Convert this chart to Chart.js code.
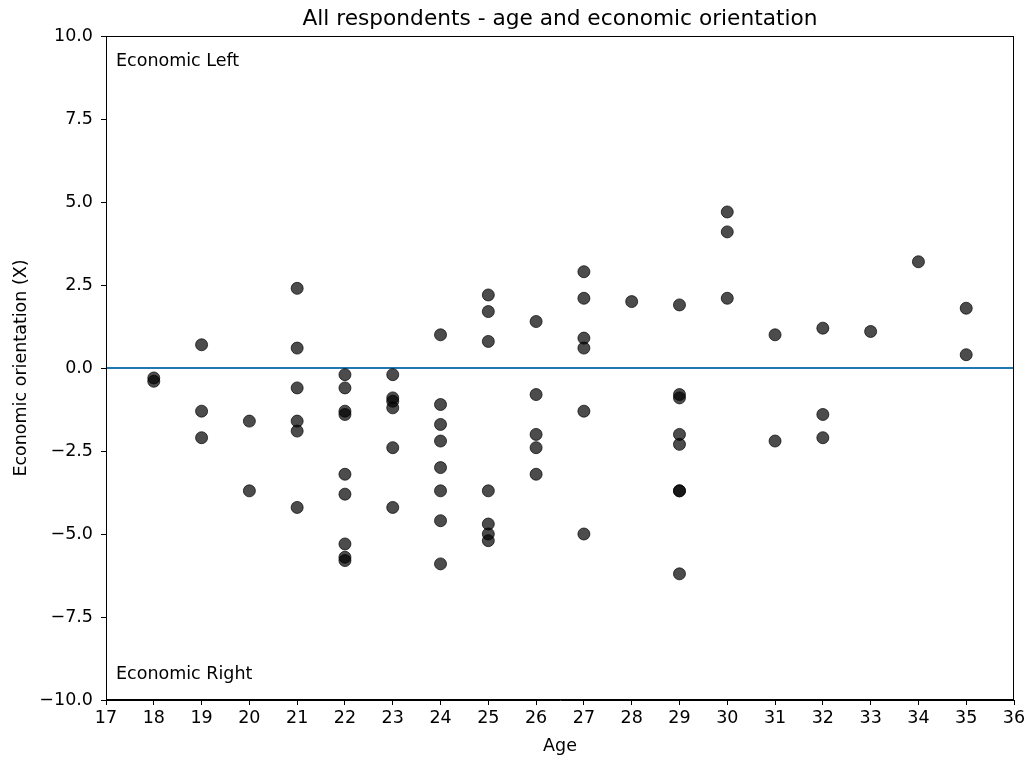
<!DOCTYPE html>
<html>
<head>
<meta charset="utf-8">
<script src="https://cdn.jsdelivr.net/npm/chart.js@4"></script>
<style>
  body { margin: 0; background: #fff; }
  canvas { display: block; }
</style>
</head>
<body>
<canvas id="myChart" width="1026" height="760"></canvas>
<script>
// one entry per respondent
const ages = [
  18, 18,
  19, 19, 19,
  20, 20,
  21, 21, 21, 21, 21, 21,
  22, 22, 22, 22, 22, 22, 22, 22, 22,
  23, 23, 23, 23, 23, 23,
  24, 24, 24, 24, 24, 24, 24, 24,
  25, 25, 25, 25, 25, 25, 25,
  26, 26, 26, 26, 26,
  27, 27, 27, 27, 27, 27,
  28,
  29, 29, 29, 29, 29, 29, 29, 29,
  30, 30, 30,
  31, 31,
  32, 32, 32,
  33,
  34,
  35, 35
];
const orientation = [
  -0.3, -0.4,
  0.7, -1.3, -2.1,
  -1.6, -3.7,
  2.4, 0.6, -0.6, -1.6, -1.9, -4.2,
  -0.2, -0.6, -1.3, -1.4, -3.2, -3.8, -5.3, -5.7, -5.8,
  -0.2, -0.9, -1.0, -1.2, -2.4, -4.2,
  1.0, -1.1, -1.7, -2.2, -3.0, -3.7, -4.6, -5.9,
  2.2, 1.7, 0.8, -3.7, -4.7, -5.0, -5.2,
  1.4, -0.8, -2.0, -2.4, -3.2,
  2.9, 2.1, 0.9, 0.6, -1.3, -5.0,
  2.0,
  1.9, -0.8, -0.9, -2.0, -2.3, -3.7, -3.7, -6.2,
  4.7, 4.1, 2.1,
  1.0, -2.2,
  1.2, -1.4, -2.1,
  1.1,
  3.2,
  1.8, 0.4
];
const xRange = [17, 36];
const yRange = [-10, 10];
const title = "All respondents - age and economic orientation";
const xLabel = "Age";
const yLabel = "Economic orientation (X)";
const topNote = "Economic Left";
const bottomNote = "Economic Right";

const FONT = "'DejaVu Sans', sans-serif";
const SIZE = 17.5;

const points = ages.map((a, i) => ({ x: a, y: orientation[i] }));

const frame = {
  id: "frame",
  afterDraw(chart) {
    const c = chart.ctx;
    const a = chart.chartArea;
    c.save();
    c.strokeStyle = "#000";
    c.lineWidth = 1;
    c.strokeRect(a.left + 0.5, a.top + 0.5, a.right - a.left - 1, a.bottom - a.top - 1);

    c.fillStyle = "#000";
    c.font = "21.7px " + FONT;
    c.textAlign = "center";
    c.textBaseline = "alphabetic";
    c.fillText(title, (a.left + a.right) / 2, 25);

    c.font = SIZE + "px " + FONT;
    c.fillText(xLabel, (a.left + a.right) / 2, 751);

    c.textAlign = "left";
    c.fillText(topNote, 116, 66);
    c.fillText(bottomNote, 116, 679);

    c.translate(26, (a.top + a.bottom) / 2);
    c.rotate(-Math.PI / 2);
    c.textAlign = "center";
    c.fillText(yLabel, 0, 0);
    c.restore();
  }
};

new Chart(document.getElementById("myChart"), {
  type: "scatter",
  data: {
    datasets: [
      {
        type: "line",
        data: [{ x: xRange[0], y: 0 }, { x: xRange[1], y: 0 }],
        borderColor: "#1f77b4",
        borderWidth: 2,
        pointRadius: 0,
        order: 2
      },
      {
        data: points,
        backgroundColor: "rgba(0,0,0,0.7)",
        borderColor: "rgba(0,0,0,0.7)",
        borderWidth: 1,
        pointRadius: 6,
        order: 1
      }
    ]
  },
  plugins: [frame],
  options: {
    responsive: false,
    animation: false,
    layout: { padding: { top: 36, right: 12, left: 0, bottom: 0 } },
    plugins: {
      legend: { display: false },
      tooltip: { enabled: false }
    },
    scales: {
      x: {
        type: "linear",
        min: xRange[0],
        max: xRange[1],
        afterFit(scale) {
          scale.height = 60;
          scale.paddingLeft = 0;
          scale.paddingRight = 0;
        },
        afterBuildTicks(scale) {
          const t = [];
          for (let v = xRange[0]; v <= xRange[1]; v++) t.push({ value: v });
          scale.ticks = t;
        },
        grid: { drawOnChartArea: false, drawTicks: true, tickLength: 5, tickColor: "#000" },
        border: { color: "#000" },
        ticks: {
          color: "#000",
          font: { family: FONT, size: SIZE },
          padding: 3,
          maxRotation: 0,
          autoSkip: false
        }
      },
      y: {
        min: yRange[0],
        max: yRange[1],
        afterFit(scale) {
          scale.width = 106;
          scale.paddingTop = 0;
          scale.paddingBottom = 0;
        },
        afterBuildTicks(scale) {
          const t = [];
          for (let v = yRange[0]; v <= yRange[1]; v += 2.5) t.push({ value: v });
          scale.ticks = t;
        },
        grid: { drawOnChartArea: false, drawTicks: true, tickLength: 5, tickColor: "#000" },
        border: { color: "#000" },
        ticks: {
          color: "#000",
          font: { family: FONT, size: SIZE },
          padding: 8,
          autoSkip: false,
          callback: (v) => v.toFixed(1).replace("-", "\u2212")
        }
      }
    }
  }
});
</script>
</body>
</html>
